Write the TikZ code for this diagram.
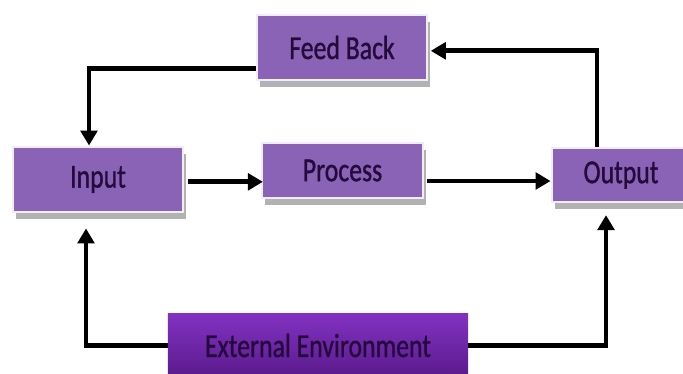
\documentclass[tikz,border=0pt]{standalone}
\usepackage{fontspec}
\setmainfont{Carlito}
\newfontfamily\labelfont[FakeBold=1.2]{Carlito}
\usetikzlibrary{calc}
\usetikzlibrary{arrows.meta}
\usetikzlibrary{shadows}
\usetikzlibrary{positioning}
\definecolor{boxpurple}{HTML}{8A63B6}
\definecolor{envtop}{HTML}{8232C2}
\definecolor{envbottom}{HTML}{5A1A8C}
\definecolor{labelink}{HTML}{240B3C}
\newcommand{\tallword}[1]{\scalebox{1}[1.3]{#1}}
\tikzset{sysbox/.style={fill=boxpurple, draw=white!88!boxpurple, line width=2.5pt,
    text=labelink, font=\labelfont\fontsize{22}{24}\selectfont,
    drop shadow={shadow xshift=0.1cm, shadow yshift=-0.22cm, fill=gray!60, opacity=1}}}
\tikzset{envbox/.style={top color=envtop, bottom color=envbottom, draw=none,
    text=labelink, font=\labelfont\fontsize{22}{24}\selectfont}}

\begin{document}
\begin{tikzpicture}[x=0.03cm, y=-0.03cm]
\tikzstyle{flowarrow} = [line width=4pt, -{Triangle[length=0.45cm, width=0.5cm]}]
\clip (0,0) rectangle (683,374);
\fill[white] (0,0) rectangle (683,374);
% boxes
\node[sysbox, minimum width=5.1cm, minimum height=1.95cm] (feedback) at (342,47.5) {\tallword{Feed Back}};
\node[sysbox, minimum width=5.1cm, minimum height=1.95cm] (input) at (98,179.5) {\tallword{Input}};
\node[sysbox, minimum width=4.83cm, minimum height=1.65cm] (process) at (342.5,170.5) {\tallword{Process}};
\node[sysbox, minimum width=4.14cm, minimum height=1.62cm] (output) at (621,175) {\tallword{Output}};
\node[envbox, minimum width=9cm, minimum height=1.95cm] (environment) at (318,345.5) {\tallword{External Environment}};
% connectors
\draw[flowarrow, line join=miter] ([yshift=-0.62cm]feedback.west) -| ([xshift=-0.27cm]input.north);
\draw[flowarrow, line join=miter] ([xshift=-0.72cm]output.north) |- ([yshift=-0.1cm, xshift=2pt]feedback.east);
\draw[flowarrow, shorten <=3pt, shorten >=-2pt] ([yshift=-0.07cm]input.east) -- ([yshift=-0.07cm]input.east -| process.west);
\draw[flowarrow, shorten <=2pt] ([yshift=-0.18cm]process.east |- output.west) -- ([yshift=-0.18cm]output.west);
\draw[flowarrow, line join=miter, shorten >=0.45cm] (environment.west) -| ([xshift=-0.36cm]input.south);
\draw[flowarrow, line join=miter, shorten >=0.35cm] (environment.east) -| ([xshift=-0.45cm]output.south);
\end{tikzpicture}
\end{document}
